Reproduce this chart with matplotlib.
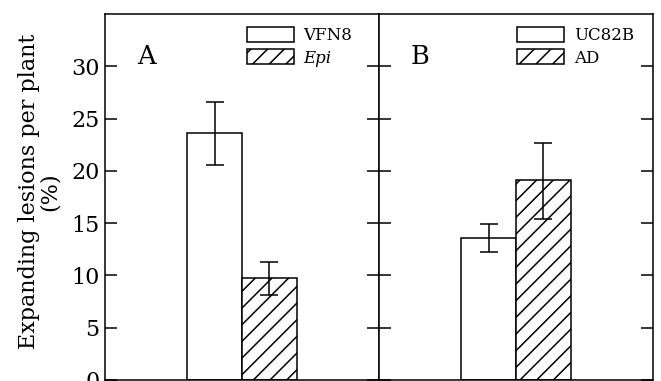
import matplotlib.pyplot as plt

plt.rcParams['font.family'] = 'DejaVu Serif'
plt.rcParams['hatch.linewidth'] = 1.1

# panel A
labels_a = ['VFN8', 'Epi']
means_a = [23.6, 9.8]
err_lo_a = [20.6, 8.1]
err_hi_a = [26.6, 11.25]

# panel B
labels_b = ['UC82B', 'AD']
means_b = [13.55, 19.1]
err_lo_b = [12.2, 15.4]
err_hi_b = [14.9, 22.7]

yticks = [0, 5, 10, 15, 20, 25, 30]

fig = plt.figure(figsize=(6.61, 3.81), dpi=100)
W, H = 661, 381
bot = 1 / H
hgt = 366 / H
axA = fig.add_axes([105 / W, bot, 274 / W, hgt])
axB = fig.add_axes([379 / W, bot, 274 / W, hgt])


def panel(ax, labels, means, lo, hi, letter, legx):
    xs = [0.40, 0.60]
    hatches = ['', '//']
    yerr = [[m - l for m, l in zip(means, lo)], [h - m for m, h in zip(means, hi)]]
    for i in range(2):
        ax.bar(xs[i], means[i], width=0.2, color='white', edgecolor='black',
               linewidth=1.1, hatch=hatches[i], label=labels[i], zorder=2)
    ax.errorbar(xs, means, yerr=yerr, fmt='none', ecolor='black', elinewidth=1.1,
                capsize=6.5, capthick=1.1, zorder=3)
    ax.set_xlim(0, 1)
    ax.set_ylim(0, 35)
    ax.set_xticks([])
    ax.set_yticks(yticks)
    ax.tick_params(axis='y', direction='in', length=8.6, width=1.1, left=True,
                   right=True, labelsize=16, pad=4)
    for s in ax.spines.values():
        s.set_linewidth(1.1)
    ax.text(0.15, 0.885, letter, transform=ax.transAxes, fontsize=18.5,
            ha='center', va='center')
    leg = ax.legend(loc='upper left', bbox_to_anchor=(legx, 0.965), frameon=False,
                    borderpad=0, borderaxespad=0, handlelength=2.8,
                    handleheight=1.0, labelspacing=0.33, handletextpad=0.6,
                    fontsize=12)
    return leg


legA = panel(axA, labels_a, means_a, err_lo_a, err_hi_a, 'A', 0.518)
legA.get_texts()[1].set_style('italic')
panel(axB, labels_b, means_b, err_lo_b, err_hi_b, 'B', 0.504)
axB.tick_params(axis='y', labelleft=False)

axA.set_ylabel('Expanding lesions per plant\n(%)', fontsize=16,
               linespacing=0.95, labelpad=7)
axA.yaxis.label.set_y(0.515)

fig.savefig('out.png', dpi=100)
